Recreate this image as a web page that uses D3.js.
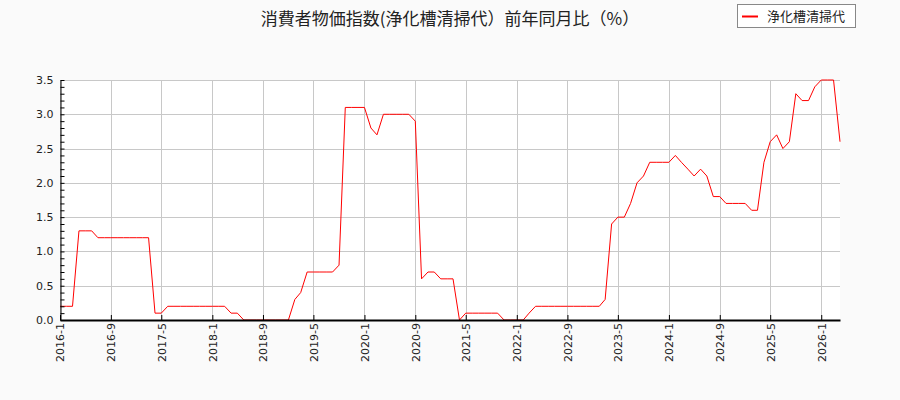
<!DOCTYPE html>
<html><head><meta charset="utf-8">
<script src="https://cdn.jsdelivr.net/npm/d3@7"></script>
<style>
html,body{margin:0;padding:0;background:#fafafa;}
svg{display:block;}
</style></head>
<body>
<svg id="chart" width="900" height="400"></svg>
<script>
const titleText = "消費者物価指数(浄化槽清掃代）前年同月比（%）";
const seriesName = "浄化槽清掃代";
const startMonth = "2016-01";
const values = [
  0.2,0.2,0.2,1.3,1.3,1.3,1.2,1.2,1.2,1.2,1.2,1.2,
  1.2,1.2,1.2,0.1,0.1,0.2,0.2,0.2,0.2,0.2,0.2,0.2,
  0.2,0.2,0.2,0.1,0.1,0.0,0.0,0.0,0.0,0.0,0.0,0.0,
  0.0,0.3,0.4,0.7,0.7,0.7,0.7,0.7,0.8,3.1,3.1,3.1,
  3.1,2.8,2.7,3.0,3.0,3.0,3.0,3.0,2.9,0.6,0.7,0.7,
  0.6,0.6,0.6,0.0,0.1,0.1,0.1,0.1,0.1,0.1,0.0,0.0,
  0.0,0.0,0.1,0.2,0.2,0.2,0.2,0.2,0.2,0.2,0.2,0.2,
  0.2,0.2,0.3,1.4,1.5,1.5,1.7,2.0,2.1,2.3,2.3,2.3,
  2.3,2.4,2.3,2.2,2.1,2.2,2.1,1.8,1.8,1.7,1.7,1.7,
  1.7,1.6,1.6,2.3,2.6,2.7,2.5,2.6,3.3,3.2,3.2,3.4,
  3.5,3.5,3.5,2.6
];
const xTickLabels = ["2016-1","2016-9","2017-5","2018-1","2018-9","2019-5","2020-1","2020-9","2021-5","2022-1","2022-9","2023-5","2024-1","2024-9","2025-5","2026-1"];
const yTicks = [0,0.5,1.0,1.5,2.0,2.5,3.0,3.5];

const parse = d3.timeParse("%Y-%m");
const start = parse(startMonth);
const data = values.map((v,i)=>({date:d3.timeMonth.offset(start,i), value:v}));
const tickDates = xTickLabels.map(s=>parse(s));

const margin = {left:60, right:60, top:80, bottom:80};
const W = 900, H = 400;
const svg = d3.select("#chart");

const x = d3.scaleTime().domain([data[0].date, data[data.length-1].date]).range([margin.left, W-margin.right]);
const y = d3.scaleLinear().domain([0,3.5]).range([H-margin.bottom, margin.top]);

// plot background
svg.append("rect").attr("x",margin.left).attr("y",margin.top)
  .attr("width",W-margin.left-margin.right).attr("height",H-margin.top-margin.bottom)
  .attr("fill","#ffffff");

// grid
const grid = svg.append("g").attr("stroke","#c8c8c8").attr("stroke-width",1);
tickDates.forEach(d=>{
  grid.append("line").attr("x1",Math.round(x(d))+0.5).attr("x2",Math.round(x(d))+0.5)
    .attr("y1",margin.top).attr("y2",H-margin.bottom);
});
yTicks.forEach(t=>{
  grid.append("line").attr("x1",margin.left).attr("x2",W-margin.right)
    .attr("y1",Math.round(y(t))+0.5).attr("y2",Math.round(y(t))+0.5);
});

// line
const line = d3.line().x(d=>x(d.date)).y(d=>y(d.value));
svg.append("path").datum(data).attr("fill","none").attr("stroke","#ff0000")
  .attr("stroke-width",1).attr("d",line);

// y axis
const yAxis = d3.axisLeft(y).tickValues(d3.range(0,36).map(i=>i/10)).tickSizeInner(-4).tickSizeOuter(0)
  .tickFormat(d=> (Math.round(d*10)%5===0) ? d3.format(".1f")(d) : "");
const gy = svg.append("g").attr("transform",`translate(${margin.left+0.5},0)`).call(yAxis);
gy.select(".domain").attr("stroke","#000");
gy.selectAll(".tick line").attr("stroke","#000");
gy.selectAll(".tick text").attr("x",-7).attr("font-family","DejaVu Sans").attr("font-size",11).attr("fill","#222");

// x axis
const xAxis = d3.axisBottom(x).tickValues(tickDates).tickSizeInner(-5).tickSizeOuter(0)
  .tickFormat((d,i)=>xTickLabels[i]);
const gx = svg.append("g").attr("transform",`translate(0,${H-margin.bottom})`).call(xAxis);
gx.select(".domain").attr("stroke","#000").attr("stroke-width",2);
gx.selectAll(".tick line").attr("stroke","#000");
gx.selectAll(".tick text").attr("font-family","DejaVu Sans").attr("font-size",11).attr("fill","#222")
  .attr("transform","rotate(-90)").attr("text-anchor","end").attr("x",-3).attr("y",0).attr("dy","0.35em");

// title
svg.append("text").attr("x",450).attr("y",25).attr("text-anchor","middle")
  .attr("font-family","Noto Sans CJK JP").attr("font-size",17).attr("fill","#222").text(titleText);

// legend
const lg = svg.append("g");
lg.append("rect").attr("x",737.5).attr("y",4.5).attr("width",118).attr("height",23)
  .attr("fill","#fff").attr("stroke","#888");
lg.append("line").attr("x1",742).attr("x2",758).attr("y1",16.5).attr("y2",16.5).attr("stroke","#ff0000").attr("stroke-width",2);
lg.append("text").attr("x",767).attr("y",21).attr("font-family","Noto Sans CJK JP").attr("font-size",13)
  .attr("fill","#222").text(seriesName);
</script>
</body></html>
